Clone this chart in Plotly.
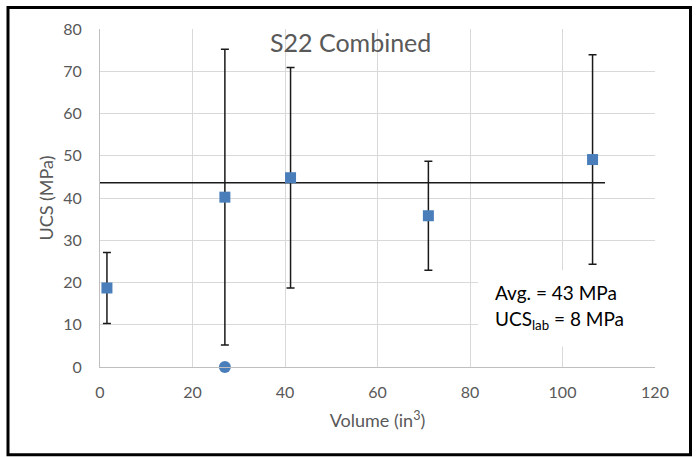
import plotly.graph_objects as go

# Specimen volume (in^3), UCS means (MPa) and symmetric error half-widths (MPa)
volume = [1.5, 27.0, 41.2, 71.0, 106.5]
ucs = [18.7, 40.2, 44.8, 35.8, 49.1]
ucs_err = [8.4, 35.0, 26.1, 12.9, 24.8]

# Single specimen with no spread
extra_volume = [27.0]
extra_ucs = [0.0]

# Combined average line
avg_x = [0, 109.2]
avg_ucs = 43.6

x_ticks = [0, 20, 40, 60, 80, 100, 120]
y_ticks = [0, 10, 20, 30, 40, 50, 60, 70, 80]

W, H = 697, 457
L, R, T, B = 100, 42, 29, 89.5
pw, ph = W - L - R, H - T - B


def px(x):
    return (x - L) / pw


def py(y):
    return (H - B - y) / ph


grey = "#595959"
font = "Lato"
blue = "#4a7ebb"

fig = go.Figure()

fig.add_trace(go.Scatter(
    x=avg_x, y=[avg_ucs] * len(avg_x), mode="lines",
    line=dict(color="#1a1a1a", width=1.5), showlegend=False, hoverinfo="skip",
))

fig.add_trace(go.Scatter(
    x=volume, y=ucs, mode="markers",
    marker=dict(symbol="square", size=11, color=blue),
    error_y=dict(type="data", array=ucs_err, visible=True,
                 color="#1a1a1a", thickness=1.5, width=4),
    showlegend=False,
))

fig.add_trace(go.Scatter(
    x=extra_volume, y=extra_ucs, mode="markers",
    marker=dict(symbol="circle", size=12, color=blue),
    showlegend=False, cliponaxis=False,
))

fig.update_xaxes(
    range=[0, 120], tickvals=x_ticks, showgrid=True, gridcolor="#d9d9d9", gridwidth=1,
    zeroline=False, showline=True, linecolor="#bfbfbf", linewidth=1,
    tickfont=dict(family=font, size=16, color=grey), ticklabelstandoff=11,
    title=dict(text="Volume (in<sup>3</sup>)", font=dict(family=font, size=18, color=grey), standoff=14),
)
fig.update_yaxes(
    range=[0, 80], tickvals=y_ticks, showgrid=True, gridcolor="#d9d9d9", gridwidth=1,
    zeroline=False, showline=True, linecolor="#bfbfbf", linewidth=1,
    tickfont=dict(family=font, size=16, color=grey), ticklabelstandoff=14,
    title=dict(text="UCS (MPa)", font=dict(family=font, size=18, color=grey), standoff=4),
)

shapes = [
    # outer frame
    dict(type="rect", xref="paper", yref="paper",
         x0=px(8), x1=px(690.5), y0=py(455.5), y1=py(7.5),
         line=dict(color="black", width=3), fillcolor="rgba(0,0,0,0)", layer="above"),
    # label box
    dict(type="rect", xref="paper", yref="paper",
         x0=px(478), x1=px(658), y0=py(347), y1=py(270.5),
         line=dict(width=0), fillcolor="white", layer="above"),
]

annotations = [
    dict(text="S22 Combined", xref="paper", yref="paper", x=px(350), y=py(42),
         xanchor="center", yanchor="middle", showarrow=False,
         font=dict(family=font, size=25, color=grey)),
    dict(text="Avg. = 43 MPa", xref="paper", yref="paper", x=px(493), y=py(293),
         xanchor="left", yanchor="middle", showarrow=False,
         font=dict(family=font, size=19, color="black")),
    dict(text="UCS<sub>lab</sub> = 8 MPa", xref="paper", yref="paper", x=px(493), y=py(320),
         xanchor="left", yanchor="middle", showarrow=False,
         font=dict(family=font, size=19, color="black")),
]

fig.update_layout(
    width=W, height=H, margin=dict(l=L, r=R, t=T, b=B),
    paper_bgcolor="white", plot_bgcolor="white",
    shapes=shapes, annotations=annotations,
)

fig.write_html("out.html")
